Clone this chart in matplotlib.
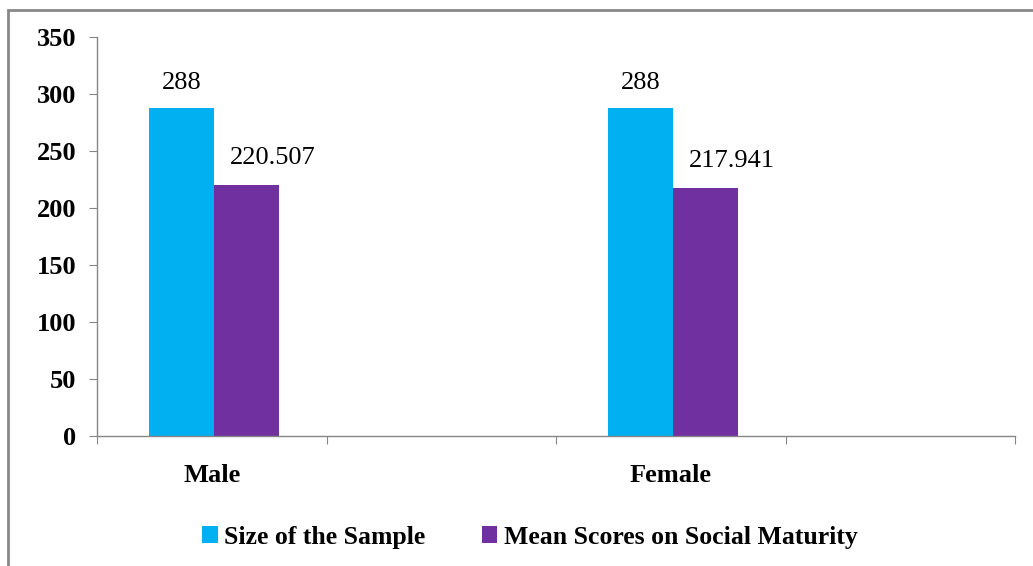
import matplotlib
matplotlib.use('Agg')
import matplotlib.pyplot as plt
import numpy as np
from matplotlib.patches import Rectangle

categories = ['Male', '', 'Female', '']
sample_size = [288, None, 288, None]
mean_scores = [220.507, None, 217.941, None]
series_names = ['Size of the Sample', 'Mean Scores on Social Maturity']
colors = ['#00B0F0', '#7030A0']

plt.rcParams['font.family'] = ['Liberation Serif', 'DejaVu Serif']

fig = plt.figure(figsize=(10.33, 5.66), dpi=100)
ax = fig.add_axes([0.0939, 0.2297, 0.8887, 0.7049])

x = np.arange(len(categories))
w = 0.284
s1 = np.array([np.nan if v is None else v for v in sample_size])
s2 = np.array([np.nan if v is None else v for v in mean_scores])
b1 = ax.bar(x + 0.01 - w, s1, w, align='edge', color=colors[0], label=series_names[0])
b2 = ax.bar(x + 0.01, s2, w, align='edge', color=colors[1], label=series_names[1])

# value labels
for xi, v in zip(x, sample_size):
    if v is not None:
        ax.annotate(f'{v:g}', (xi + 0.01 - w / 2, v), xytext=(0, 10), textcoords='offset points',
                    ha='center', va='bottom', fontsize=19)
for xi, v in zip(x, mean_scores):
    if v is not None:
        ax.annotate(f'{v:.3f}', (xi + 0.01 + w / 2, v), xytext=(19, 11), textcoords='offset points',
                    ha='center', va='bottom', fontsize=19)

ax.set_xlim(-0.5, len(categories) - 0.5)
ax.set_ylim(0, 350)
ax.set_yticks(np.arange(0, 351, 50))
ax.set_xticks(np.arange(-0.5, len(categories), 1.0))
ax.set_xticklabels([])
ax.set_xticks(x, minor=True)
ax.set_xticklabels(categories, minor=True, fontweight='bold', fontsize=19)
ax.tick_params(axis='x', which='minor', length=0, pad=20)
ax.tick_params(axis='x', which='major', length=6, color='#868686', direction='out')
ax.tick_params(axis='y', length=6, color='#868686', pad=9, labelsize=19)
for lab in ax.get_yticklabels():
    lab.set_fontweight('bold')

for s in ['top', 'right']:
    ax.spines[s].set_visible(False)
for s in ['left', 'bottom']:
    ax.spines[s].set_color('#868686')
    ax.spines[s].set_linewidth(1.0)

handles = [b1, b2]
fig.legend(handles, series_names, loc='center', bbox_to_anchor=(0.513, 0.051), ncol=2,
           frameon=False, prop={'weight': 'bold', 'size': 18.5},
           handlelength=0.6, handleheight=0.6, handletextpad=0.25, columnspacing=2.2)

# outer chart border
fig.patches.append(Rectangle((8 / 1033, -0.1), 1.2, 1 - 10 / 566 + 0.1, transform=fig.transFigure,
                             fill=False, edgecolor='#888888', linewidth=2))

fig.savefig('out.png', dpi=100)
